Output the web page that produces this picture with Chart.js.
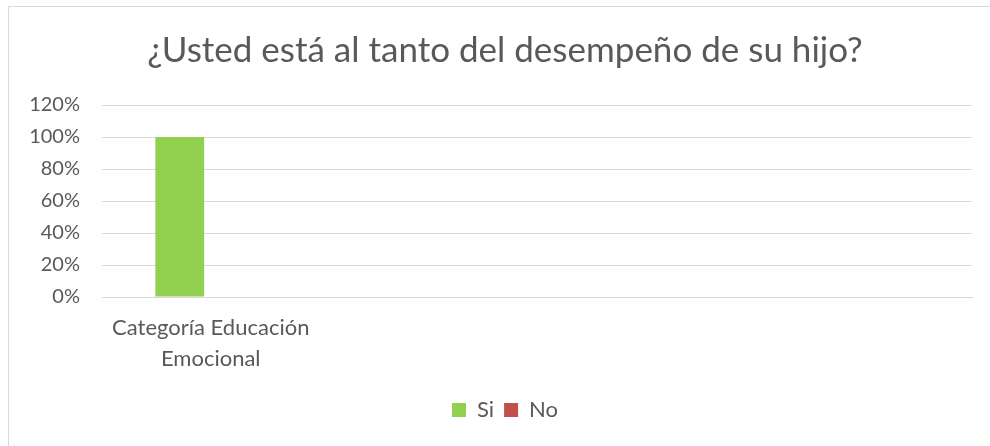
<!DOCTYPE html>
<html><head><meta charset="utf-8">
<script src="https://cdn.jsdelivr.net/npm/chart.js@4"></script>
<style>html,body{margin:0;padding:0;background:#fff}#wrap{position:relative;width:990px;height:446px}</style>
</head><body><div id="wrap"><canvas id="c" width="990" height="446"></canvas></div>
<script>
const categories = [["Categoría Educación", "Emocional"], "", "", ""];
const seriesNames = ["Si", "No"];
const siValues = [100, null, null, null];
const noValues = [0, null, null, null];
const yTicks = [0, 20, 40, 60, 80, 100, 120];
const titleText = "¿Usted está al tanto del desempeño de su hijo?";
const colors = ["#92d050", "#c0504d"];

const frame = {
  id: 'frame',
  beforeDraw(chart) {
    const ctx = chart.ctx;
    ctx.save();
    ctx.fillStyle = '#fff';
    ctx.fillRect(0, 0, chart.width, chart.height);
    ctx.strokeStyle = '#d9d9d9';
    ctx.lineWidth = 1;
    ctx.strokeRect(8.5, 6.5, 1100, 600);
    ctx.restore();
  }
};

function draw() {
  Chart.defaults.font.family = 'Lato';
  Chart.defaults.color = '#595959';
  new Chart(document.getElementById('c'), {
    type: 'bar',
    data: {
      labels: categories,
      datasets: [
        { label: seriesNames[0], data: siValues, backgroundColor: colors[0], categoryPercentage: 0.57, barPercentage: 0.787 },
        { label: seriesNames[1], data: noValues, backgroundColor: colors[1], categoryPercentage: 0.57, barPercentage: 0.787 }
      ]
    },
    options: {
      responsive: false,
      animation: false,
      layout: { padding: { top: 0, left: 10, right: -10, bottom: 15 } },
      plugins: {
        title: { display: true, text: titleText, color: '#595959', font: { size: 35, weight: 'normal', lineHeight: 1.2 }, padding: { top: 30, bottom: 33 } },
        legend: { position: 'bottom', labels: { boxWidth: 14, boxHeight: 14, padding: 10, color: '#595959', font: { size: 22 } } },
        tooltip: { enabled: false }
      },
      scales: {
        x: {
          grid: { display: false, drawTicks: false },
          border: { display: true, color: '#d9d9d9' },
          ticks: { padding: 16, color: '#595959', font: { size: 22, lineHeight: 1.4 }, maxRotation: 0, autoSkip: false },
          afterFit(s) { s.height = 92; }
        },
        y: {
          min: 0, max: 120,
          afterBuildTicks(s) { s.ticks = yTicks.map(v => ({ value: v })); },
          grid: { color: '#d9d9d9', lineWidth: 1, drawTicks: false },
          border: { display: false },
          ticks: { padding: 22, color: '#595959', font: { size: 20 }, callback: v => v + '%' },
          afterFit(s) { s.width = 92; }
        },
        yRight: {
          position: 'right',
          display: true,
          min: 0, max: 120,
          grid: { display: false, drawTicks: false },
          border: { display: false },
          ticks: { display: false },
          afterFit(s) { s.width = 28; }
        }
      }
    },
    plugins: [frame]
  });
}
if (document.fonts && document.fonts.load) {
  Promise.all([document.fonts.load('20px Lato'), document.fonts.load('35px Lato')]).then(draw, draw);
} else { draw(); }
</script>
</body></html>
